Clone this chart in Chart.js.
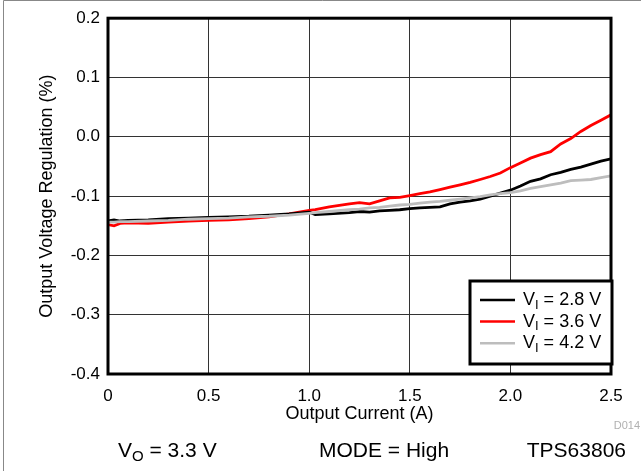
<!DOCTYPE html>
<html>
<head>
<meta charset="utf-8">
<script src="https://cdn.jsdelivr.net/npm/chart.js@4.4.1/dist/chart.umd.min.js"></script>
<style>
  html, body { margin: 0; padding: 0; background: #fff; }
  #wrap { position: relative; width: 641px; height: 471px; }
</style>
</head>
<body>
<div id="wrap"><canvas id="regChart" width="641" height="471"></canvas></div>
<script>
// Output voltage regulation vs output current (TPS63806, VO = 3.3 V)
const currentA = [0, 0.03, 0.06, 0.1, 0.2, 0.3, 0.4, 0.5, 0.6, 0.7, 0.8, 0.9, 1.0, 1.03, 1.1, 1.2, 1.25, 1.3, 1.35, 1.4,
  1.45, 1.5, 1.55, 1.6, 1.65, 1.7, 1.75, 1.8, 1.85, 1.9, 1.95, 2.0, 2.05, 2.1, 2.15, 2.2, 2.25, 2.3, 2.35, 2.4, 2.45, 2.5];

const reg28 = [-0.142, -0.140, -0.142, -0.141, -0.140, -0.138, -0.137, -0.136, -0.135, -0.134, -0.132, -0.130, -0.127, -0.131,
  -0.130, -0.128, -0.126, -0.127, -0.125, -0.124, -0.123, -0.121, -0.120, -0.119, -0.118, -0.113, -0.110, -0.108, -0.105,
  -0.100, -0.095, -0.090, -0.083, -0.075, -0.071, -0.064, -0.060, -0.055, -0.051, -0.046, -0.041, -0.037];

const reg36 = [-0.148, -0.150, -0.146, -0.145, -0.146, -0.144, -0.142, -0.141, -0.140, -0.138, -0.135, -0.130, -0.124, -0.123,
  -0.118, -0.113, -0.111, -0.113, -0.108, -0.103, -0.102, -0.099, -0.096, -0.093, -0.089, -0.085, -0.081, -0.077, -0.072,
  -0.067, -0.061, -0.052, -0.044, -0.036, -0.030, -0.025, -0.012, -0.003, 0.009, 0.019, 0.028, 0.037];

const reg42 = [-0.144, -0.144, -0.143, -0.143, -0.142, -0.141, -0.139, -0.138, -0.137, -0.135, -0.134, -0.132, -0.129, -0.128,
  -0.126, -0.123, -0.122, -0.120, -0.119, -0.117, -0.115, -0.114, -0.112, -0.110, -0.109, -0.107, -0.105, -0.103, -0.101,
  -0.098, -0.096, -0.094, -0.091, -0.087, -0.084, -0.081, -0.078, -0.074, -0.073, -0.072, -0.069, -0.066];

const seriesLabels = ['2.8 V', '3.6 V', '4.2 V'];
const seriesColors = ['#000000', '#ff0000', '#bdbdbd'];
const xTicks = [0, 0.5, 1.0, 1.5, 2.0, 2.5];
const yTicks = [-0.4, -0.3, -0.2, -0.1, 0.0, 0.1, 0.2];

const FONT = '"Liberation Sans", Arial, Helvetica, sans-serif';

function toPoints(ys) {
  return currentA.map((x, i) => ({ x: x, y: ys[i] }));
}

// text with a subscript, e.g. V + I + " = 2.8 V"
function drawSubText(ctx, x, y, main, sub, rest, size) {
  ctx.font = size + 'px ' + FONT;
  ctx.fillText(main, x, y);
  let w = ctx.measureText(main).width;
  ctx.font = Math.round(size * 0.7) + 'px ' + FONT;
  ctx.fillText(sub, x + w, y + size * 0.28);
  w += ctx.measureText(sub).width;
  ctx.font = size + 'px ' + FONT;
  ctx.fillText(rest, x + w, y);
}

const decorPlugin = {
  id: 'decor',
  afterDraw(chart) {
    const ctx = chart.ctx;
    const a = chart.chartArea;
    ctx.save();

    // page border (left + top)
    ctx.strokeStyle = '#888';
    ctx.lineWidth = 1;
    ctx.beginPath();
    ctx.moveTo(3.5, 471);
    ctx.lineTo(3.5, 0.5);
    ctx.lineTo(641, 0.5);
    ctx.stroke();

    // plot frame
    ctx.strokeStyle = '#000';
    ctx.lineWidth = 3;
    ctx.strokeRect(a.left, a.top, a.right - a.left, a.bottom - a.top);

    // legend box
    const bx = 470, by = 281, bw = 142, bh = 83;
    ctx.fillStyle = '#fff';
    ctx.fillRect(bx, by, bw, bh);
    ctx.lineWidth = 3;
    ctx.strokeRect(bx, by, bw, bh);
    ctx.textBaseline = 'middle';
    ctx.textAlign = 'left';
    seriesLabels.forEach((lab, i) => {
      const ly = 300 + i * 21.6;
      ctx.strokeStyle = seriesColors[i];
      ctx.lineWidth = 2.5;
      ctx.beginPath();
      ctx.moveTo(480, ly);
      ctx.lineTo(515, ly);
      ctx.stroke();
      ctx.fillStyle = '#000';
      drawSubText(ctx, 523, ly, 'V', 'I', ' = ' + lab, 18);
    });

    // figure id
    ctx.fillStyle = '#b0b0b0';
    ctx.font = '11px ' + FONT;
    ctx.textAlign = 'right';
    ctx.fillText('D014', 640, 426);

    // conditions row
    ctx.fillStyle = '#000';
    ctx.textAlign = 'left';
    drawSubText(ctx, 118, 451, 'V', 'O', ' = 3.3 V', 21);
    ctx.font = '21px ' + FONT;
    ctx.fillText('MODE = High', 319, 451);
    ctx.textAlign = 'right';
    ctx.fillText('TPS63806', 626, 451);

    ctx.restore();
  }
};

const datasets = [reg28, reg36, reg42].map((ys, i) => ({
  label: 'VI = ' + seriesLabels[i],
  data: toPoints(ys),
  borderColor: seriesColors[i],
  borderWidth: 2.8,
  pointRadius: 0,
  tension: 0,
  fill: false,
  order: [1, 2, 0][i]
}));

new Chart(document.getElementById('regChart'), {
  type: 'line',
  data: { datasets: datasets },
  options: {
    responsive: false,
    animation: false,
    layout: { padding: { left: 36, top: 18, right: 30, bottom: 44 } },
    plugins: { legend: { display: false }, tooltip: { enabled: false } },
    scales: {
      x: {
        type: 'linear',
        min: 0,
        max: 2.5,
        afterBuildTicks: s => { s.ticks = xTicks.map(v => ({ value: v })); },
        afterFit: s => { s.height = 53; },
        grid: { color: '#333', lineWidth: 1, drawTicks: false },
        border: { display: false },
        ticks: {
          padding: 12,
          color: '#000',
          font: { family: FONT, size: 17 },
          maxRotation: 0,
          callback: v => v === 0 ? '0' : v.toFixed(1)
        },
        title: {
          display: true,
          text: 'Output Current (A)',
          color: '#000',
          font: { family: FONT, size: 18 },
          padding: { top: 0, bottom: 2 }
        }
      },
      y: {
        type: 'linear',
        min: -0.4,
        max: 0.2,
        afterBuildTicks: s => { s.ticks = yTicks.map(v => ({ value: v })); },
        afterFit: s => { s.width = 72; },
        grid: { color: '#333', lineWidth: 1, drawTicks: false },
        border: { display: false },
        ticks: {
          padding: 8,
          color: '#000',
          font: { family: FONT, size: 17 },
          callback: v => v.toFixed(1)
        },
        title: {
          display: true,
          text: 'Output Voltage Regulation (%)',
          color: '#000',
          font: { family: FONT, size: 18 },
          padding: { top: 0, bottom: 4 }
        }
      }
    }
  },
  plugins: [decorPlugin]
});
</script>
</body>
</html>
